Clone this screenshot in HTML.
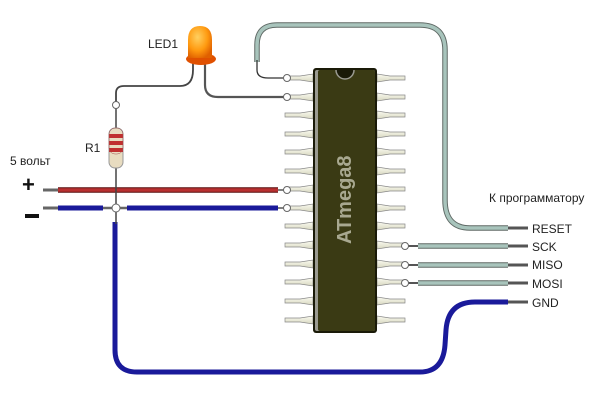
<!DOCTYPE html>
<html><head><meta charset="utf-8"><style>
html,body{margin:0;padding:0;background:#fff;}
svg{display:block;}
text{font-family:"Liberation Sans",sans-serif;}
</style></head><body>
<svg width="616" height="407" viewBox="0 0 616 407" xmlns="http://www.w3.org/2000/svg">
<defs>
<linearGradient id="pin" x1="0" y1="0" x2="0" y2="1">
<stop offset="0" stop-color="#fafaf0"/><stop offset="1" stop-color="#d8d8c0"/></linearGradient>
<radialGradient id="led" cx="0.4" cy="0.35" r="0.7">
<stop offset="0" stop-color="#ffd060"/><stop offset="0.6" stop-color="#ff9a10"/><stop offset="1" stop-color="#e06000"/></radialGradient>
<g id="lp"><path d="M285 -2 H300 L313 -4 V4 L300 2 H285 Z" fill="url(#pin)" stroke="#888" stroke-width="0.7"/></g>
<g id="rp"><path d="M405 -2 H390 L377 -4 V4 L390 2 H405 Z" fill="url(#pin)" stroke="#888" stroke-width="0.7"/></g>
</defs>

<!-- reset wire -->
<path d="M257 62 V45 Q257 25 277 25 H420 Q445 25 445 50 V200 Q445 228 470 228 H508" fill="none" stroke="#606a66" stroke-width="5.5"/>
<path d="M257 62 V45 Q257 25 277 25 H420 Q445 25 445 50 V200 Q445 228 470 228 H508" fill="none" stroke="#a8c4bc" stroke-width="3.5"/>
<path d="M257 60 V70 Q257 78 268 78 H287" fill="none" stroke="#333" stroke-width="1.3"/>
<line x1="508" y1="228" x2="528" y2="228" stroke="#555" stroke-width="3"/>

<!-- SPI wires -->
<g>
<line x1="405" y1="246" x2="418" y2="246" stroke="#555" stroke-width="2"/>
<line x1="418" y1="246" x2="508" y2="246" stroke="#606a66" stroke-width="5.5"/><line x1="418" y1="246" x2="508" y2="246" stroke="#a8c4bc" stroke-width="3.5"/>
<line x1="508" y1="246" x2="528" y2="246" stroke="#555" stroke-width="3"/>
<line x1="405" y1="265" x2="418" y2="265" stroke="#555" stroke-width="2"/>
<line x1="418" y1="265" x2="508" y2="265" stroke="#606a66" stroke-width="5.5"/><line x1="418" y1="265" x2="508" y2="265" stroke="#a8c4bc" stroke-width="3.5"/>
<line x1="508" y1="265" x2="528" y2="265" stroke="#555" stroke-width="3"/>
<line x1="405" y1="283" x2="418" y2="283" stroke="#555" stroke-width="2"/>
<line x1="418" y1="283" x2="508" y2="283" stroke="#606a66" stroke-width="5.5"/><line x1="418" y1="283" x2="508" y2="283" stroke="#a8c4bc" stroke-width="3.5"/>
<line x1="508" y1="283" x2="528" y2="283" stroke="#555" stroke-width="3"/>
</g>

<!-- GND blue -->
<path d="M115 222 V350 Q115 372 137 372 H420 Q443 372 445 345 L446 330 Q448 302 475 302 H508" fill="none" stroke="#1a1a9a" stroke-width="5"/>
<line x1="508" y1="302" x2="528" y2="302" stroke="#555" stroke-width="3"/>

<!-- power rails -->
<line x1="43" y1="190" x2="58" y2="190" stroke="#666" stroke-width="3"/>
<line x1="58" y1="190" x2="278" y2="190" stroke="#5a1010" stroke-width="5.5"/>
<line x1="58" y1="190" x2="278" y2="190" stroke="#b83030" stroke-width="3.5"/>
<line x1="278" y1="190" x2="287" y2="190" stroke="#555" stroke-width="1.5"/>
<line x1="43" y1="208" x2="58" y2="208" stroke="#666" stroke-width="3"/>
<line x1="58" y1="208" x2="103" y2="208" stroke="#1a1a9a" stroke-width="5"/>
<line x1="103" y1="208" x2="127" y2="208" stroke="#666" stroke-width="2.5"/>
<line x1="127" y1="208" x2="278" y2="208" stroke="#1a1a9a" stroke-width="5"/>
<line x1="278" y1="208" x2="287" y2="208" stroke="#555" stroke-width="1.5"/>

<!-- resistor vertical line & LED leads -->
<line x1="116" y1="108" x2="116" y2="224" stroke="#444" stroke-width="1.5"/>
<path d="M116 102 V93 Q116 86 124 86 H180 Q193 86 193 70 V62" fill="none" stroke="#444" stroke-width="1.8"/>
<path d="M205 62 V85 Q205 97 218 97 H287" fill="none" stroke="#555" stroke-width="2.2"/>
<circle cx="116" cy="105" r="3.5" fill="#fff" stroke="#666"/>
<circle cx="116" cy="208" r="4" fill="#fff" stroke="#666"/>

<!-- resistor -->
<rect x="109" y="128" width="14" height="40" rx="6" fill="#e8dcc0" stroke="#999"/>
<rect x="109" y="134" width="14" height="4" fill="#c03030"/>
<rect x="109" y="141" width="14" height="4" fill="#c03030"/>
<rect x="109" y="148" width="14" height="4" fill="#c03030"/>
<rect x="109" y="128" width="14" height="26" rx="6" fill="none" stroke="#a05050" stroke-width="0.5"/>

<!-- LED -->
<ellipse cx="201" cy="59" rx="15" ry="6" fill="#e05000"/>
<path d="M188 58 V40 Q188 26 200 26 Q212 26 212 40 V58 Z" fill="url(#led)"/>

<!-- chip pins -->
<g>
<use href="#lp" y="78"/><use href="#lp" y="97"/><use href="#lp" y="115"/><use href="#lp" y="134"/><use href="#lp" y="152"/><use href="#lp" y="171"/><use href="#lp" y="189"/><use href="#lp" y="208"/><use href="#lp" y="226"/><use href="#lp" y="245"/><use href="#lp" y="264"/><use href="#lp" y="282"/><use href="#lp" y="301"/><use href="#lp" y="320"/>
<use href="#rp" y="78"/><use href="#rp" y="97"/><use href="#rp" y="115"/><use href="#rp" y="134"/><use href="#rp" y="152"/><use href="#rp" y="171"/><use href="#rp" y="189"/><use href="#rp" y="208"/><use href="#rp" y="226"/><use href="#rp" y="245"/><use href="#rp" y="264"/><use href="#rp" y="282"/><use href="#rp" y="301"/><use href="#rp" y="320"/>
</g>
<circle cx="287" cy="78" r="3.5" fill="#fff" stroke="#666"/>
<circle cx="287" cy="97" r="3.5" fill="#fff" stroke="#666"/>
<circle cx="287" cy="190" r="3.5" fill="#fff" stroke="#666"/>
<circle cx="287" cy="208" r="3.5" fill="#fff" stroke="#666"/>
<circle cx="405" cy="246" r="3.5" fill="#fff" stroke="#666"/>
<circle cx="405" cy="265" r="3.5" fill="#fff" stroke="#666"/>
<circle cx="405" cy="283" r="3.5" fill="#fff" stroke="#666"/>

<!-- chip body -->
<rect x="313" y="68" width="64" height="265" rx="3" fill="#1a1a08"/>
<rect x="315" y="70" width="60" height="261" rx="2" fill="#9a9a90"/>
<rect x="318" y="70" width="57" height="261" rx="2" fill="#3a3a14"/>
<path d="M336 70 A9 9 0 0 0 354 70" fill="#1a1a08" stroke="#9a9a90" stroke-width="1.5"/>
<text x="0" y="0" transform="translate(351 244) rotate(-90)" font-size="20" font-weight="bold" fill="#a8a890">ATmega8</text>

<!-- labels -->
<text x="148" y="48" font-size="12" fill="#222">LED1</text>
<text x="85" y="152" font-size="12" fill="#222">R1</text>
<text x="10" y="165" font-size="12" fill="#222">5 вольт</text>
<text x="22" y="192" font-size="22" font-weight="bold" fill="#111">+</text>
<rect x="25" y="214" width="14" height="4" fill="#111"/>
<text x="489" y="202" font-size="12" fill="#222">К программатору</text>
<text x="532" y="233" font-size="12" fill="#222">RESET</text>
<text x="532" y="251" font-size="12" fill="#222">SCK</text>
<text x="532" y="269" font-size="12" fill="#222">MISO</text>
<text x="532" y="288" font-size="12" fill="#222">MOSI</text>
<text x="532" y="307" font-size="12" fill="#222">GND</text>
</svg>
</body></html>
